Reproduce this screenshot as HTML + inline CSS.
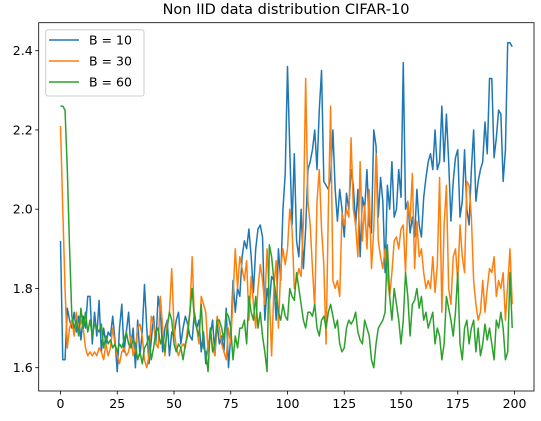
<!DOCTYPE html>
<html><head><meta charset="utf-8"><style>
body{margin:0;background:#fff;}
svg{display:block;font-family:"DejaVu Sans","Liberation Sans",sans-serif;}
</style></head><body>
<svg id="chart" width="541" height="421" viewBox="0 0 541 421" xmlns="http://www.w3.org/2000/svg">
<rect width="541" height="421" fill="#fff"/>
<text x="286" y="14" text-anchor="middle" font-size="14.5" fill="#000">Non IID data distribution CIFAR-10</text>
<g id="plot"></g>
</svg>
<script>
const xTicks=[0,25,50,75,100,125,150,175,200];
const yTicks=[1.6,1.8,2.0,2.2,2.4];
const yTickLabels=["1.6","1.8","2.0","2.2","2.4"];
const seriesNames=["B = 10","B = 30","B = 60"];
const b10=[1.92,1.62,1.62,1.75,1.72,1.70,1.74,1.69,1.73,1.67,
1.73,1.70,1.78,1.78,1.66,1.74,1.68,1.77,1.64,1.70,
1.66,1.69,1.68,1.73,1.67,1.59,1.70,1.76,1.64,1.69,
1.74,1.65,1.70,1.60,1.72,1.63,1.69,1.81,1.70,1.61,
1.67,1.73,1.66,1.78,1.74,1.64,1.70,1.72,1.63,1.69,
1.68,1.72,1.74,1.66,1.70,1.73,1.71,1.68,1.67,1.74,
1.70,1.72,1.64,1.69,1.61,1.66,1.68,1.72,1.63,1.71,
1.66,1.68,1.64,1.75,1.60,1.68,1.82,1.74,1.80,1.78,
1.88,1.92,1.90,1.95,1.88,1.79,1.90,1.95,1.96,1.93,
1.72,1.80,1.76,1.83,1.82,1.72,1.90,1.82,2.00,2.09,
2.36,2.15,1.96,2.14,1.92,1.88,2.00,1.85,1.95,2.10,
2.12,2.15,2.20,2.10,2.25,2.35,2.07,2.06,2.05,2.08,
2.20,2.05,1.97,2.05,2.00,1.93,2.04,2.00,2.10,2.06,
1.96,2.05,1.88,2.03,2.00,2.10,1.96,1.94,2.20,2.16,
1.98,2.08,2.02,1.84,2.06,2.00,2.12,1.98,2.00,2.10,
2.03,2.37,2.00,2.02,1.94,1.98,1.93,2.05,1.96,1.93,
2.03,2.08,2.12,2.14,2.10,2.20,2.10,2.12,2.26,2.12,
2.24,2.12,1.97,2.07,2.13,2.15,1.98,2.02,2.15,2.00,
1.96,2.10,2.20,2.02,2.07,2.10,2.12,2.22,2.14,2.33,
2.33,2.13,2.18,2.25,2.24,2.07,2.15,2.42,2.42,2.41];
const b30=[2.21,2.00,1.80,1.65,1.70,1.72,1.68,1.74,1.69,1.72,
1.70,1.65,1.63,1.64,1.63,1.64,1.63,1.65,1.64,1.62,
1.66,1.63,1.65,1.70,1.66,1.63,1.61,1.64,1.65,1.63,
1.64,1.68,1.63,1.65,1.70,1.71,1.68,1.62,1.60,1.63,
1.73,1.71,1.66,1.65,1.78,1.70,1.63,1.71,1.74,1.85,
1.70,1.65,1.63,1.65,1.66,1.65,1.70,1.74,1.88,1.72,
1.70,1.66,1.78,1.76,1.74,1.64,1.70,1.65,1.63,1.73,
1.70,1.66,1.64,1.62,1.70,1.66,1.78,1.90,1.80,1.88,
1.85,1.82,1.87,1.72,1.83,1.76,1.70,1.80,1.86,1.82,
1.76,1.90,1.78,1.63,1.80,1.87,1.70,1.85,1.90,1.86,
1.90,2.00,1.95,1.80,1.82,1.85,1.83,1.97,2.33,2.02,
1.96,1.85,1.75,2.02,2.10,1.95,1.86,1.66,2.00,2.26,
1.82,1.80,1.82,1.78,1.99,1.96,2.00,1.98,2.18,2.00,
1.96,1.88,2.12,1.92,2.01,1.90,2.05,1.85,1.95,2.14,
1.92,1.88,1.85,1.90,1.83,1.78,1.84,1.92,1.93,1.90,
1.95,1.96,1.84,2.02,1.97,2.09,1.85,1.97,1.88,1.90,
1.84,1.80,1.82,1.80,1.88,1.79,1.86,2.08,1.74,1.96,
2.06,1.80,1.76,1.88,1.90,1.82,1.96,1.88,1.84,2.07,
2.06,1.98,1.82,1.76,1.72,1.74,1.82,1.74,1.80,1.85,
1.84,1.88,1.78,1.82,1.80,1.84,1.72,1.81,1.90,1.76];
const b60=[2.26,2.26,2.25,2.10,1.90,1.73,1.70,1.72,1.68,1.75,
1.70,1.74,1.69,1.72,1.68,1.71,1.70,1.69,1.71,1.65,
1.68,1.66,1.67,1.65,1.66,1.64,1.66,1.65,1.67,1.69,
1.66,1.65,1.67,1.66,1.62,1.64,1.61,1.65,1.66,1.68,
1.62,1.65,1.69,1.70,1.66,1.68,1.64,1.70,1.74,1.72,
1.66,1.64,1.66,1.65,1.62,1.66,1.68,1.74,1.80,1.72,
1.70,1.68,1.76,1.65,1.64,1.59,1.70,1.64,1.66,1.72,
1.72,1.70,1.67,1.74,1.73,1.70,1.62,1.68,1.65,1.70,
1.70,1.72,1.66,1.78,1.74,1.72,1.78,1.70,1.74,1.68,
1.64,1.59,1.91,1.88,1.82,1.78,1.74,1.72,1.76,1.73,
1.72,1.80,1.78,1.77,1.84,1.80,1.76,1.72,1.70,1.74,
1.74,1.73,1.76,1.70,1.68,1.72,1.73,1.70,1.74,1.76,
1.73,1.70,1.72,1.66,1.64,1.65,1.70,1.72,1.71,1.72,
1.74,1.69,1.67,1.66,1.72,1.70,1.68,1.62,1.60,1.66,
1.70,1.71,1.72,1.74,1.91,1.78,1.72,1.80,1.76,1.72,
1.66,1.72,1.84,1.78,1.68,1.76,1.77,1.80,1.75,1.78,
1.72,1.74,1.70,1.72,1.74,1.66,1.70,1.68,1.62,1.66,
1.78,1.75,1.72,1.68,1.74,1.84,1.66,1.62,1.70,1.72,
1.66,1.70,1.72,1.64,1.70,1.63,1.66,1.71,1.67,1.70,
1.66,1.62,1.72,1.70,1.74,1.70,1.62,1.64,1.84,1.70];
const colors=["#1f77b4","#ff7f0e","#2ca02c"];
const NS="http://www.w3.org/2000/svg";
const L=38.7,R=534,T=22.7,B=391;
function xs(v){return 60.5+v*(514.5-60.5)/200;}
function ys(v){return 367.7-(v-1.6)*(367.7-50.7)/0.8;}
const g=document.getElementById('plot');
function mk(tag,attrs){const e=document.createElementNS(NS,tag);for(const k in attrs)e.setAttribute(k,attrs[k]);g.appendChild(e);return e;}
// series
[b10,b30,b60].forEach((arr,si)=>{
  const d=arr.map((v,i)=>(i?'L':'M')+xs(i).toFixed(2)+','+ys(v).toFixed(2)).join('');
  const p=mk('path',{d:d,fill:'none',stroke:colors[si],'stroke-width':1.5,'stroke-linejoin':'round'});
  
  
});
// frame
const fr=mk('rect',{x:L,y:T,width:R-L,height:B-T,fill:'none',stroke:'#000','stroke-width':0.8});


// x ticks
xTicks.forEach(t=>{
  const x=xs(t);
  const tk=mk('line',{x1:x,x2:x,y1:B,y2:B+3.5,stroke:'#000','stroke-width':0.8});
  
  
  const tx=mk('text',{x:x,y:B+17,'text-anchor':'middle','font-size':12.5,fill:'#000'});
  tx.textContent=String(t);
  
  
});
// y ticks
yTicks.forEach((t,i)=>{
  const y=ys(t);
  const tk=mk('line',{x1:L-3.5,x2:L,y1:y,y2:y,stroke:'#000','stroke-width':0.8});
  
  
  const tx=mk('text',{x:L-6,y:y+4.5,'text-anchor':'end','font-size':12.5,fill:'#000'});
  tx.textContent=yTickLabels[i];
  
  
});
// legend
const lg=mk('rect',{x:45.7,y:29.7,width:98.3,height:66.3,rx:2.5,fill:'#fff','fill-opacity':0.8,stroke:'#ccc','stroke-width':1});


seriesNames.forEach((n,i)=>{
  const y=40+i*21;
  const ln=mk('line',{x1:49,x2:79,y1:y,y2:y,stroke:colors[i],'stroke-width':1.5});
  
  
  const tx=mk('text',{x:89,y:y+4.5,'font-size':12.5,fill:'#000'});
  tx.textContent=n;
  
  
});
</script>
</body></html>
